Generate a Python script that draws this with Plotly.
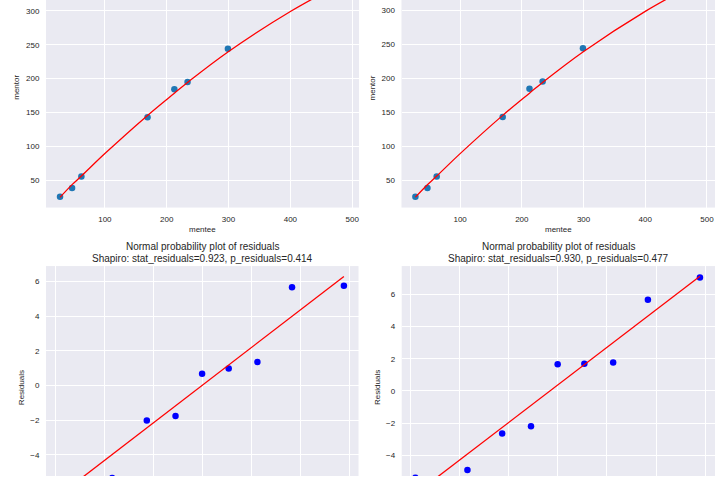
import plotly.graph_objects as go

# ---- data ----
mentee = [27.5, 47, 62, 169, 212.4, 233.7, 299, 430, 488]
mentor = [25.7, 38.4, 55.4, 142.8, 184.4, 195.0, 244.2, 330, 347]

fit_x = [27.5, 47, 62, 100, 169, 212.4, 233.7, 299, 400, 488]
fit_y_left = [24.8, 43.5, 56.1, 89.3, 145.7, 178.5, 194.3, 239.3, 299.1, 343.1]
fit_y_right = [25.0, 43.3, 56.0, 89.0, 145.3, 178.0, 193.8, 238.6, 298.3, 342.5]

theo_q = [-1.446, -0.917, -0.564, -0.271, 0.0, 0.271, 0.564, 0.917, 1.446]
resid_left = [-6.4, -5.34, -2.02, -1.76, 0.67, 0.97, 1.35, 5.66, 5.75]
resid_right = [-5.4, -4.92, -2.65, -2.20, 1.66, 1.68, 1.76, 5.67, 7.05]
qline_x = [-1.446, 1.446]
qline_left = [-6.29, 6.29]
qline_right = [-6.40, 7.13]

titles = [
    ("Normal probability plot of residuals",
     "Shapiro: stat_residuals=0.923, p_residuals=0.414"),
    ("Normal probability plot of residuals",
     "Shapiro: stat_residuals=0.930, p_residuals=0.477"),
]

# ---- style ----
W, H = 720, 480
BG = "#EAEAF2"
TXT = "#262626"
FONT = "Liberation Sans, Arial, sans-serif"
PT_BLUE = "#1f77b4"

def px_x(v):
    return v / W

def px_y(v):
    return 1 - v / H

fig = go.Figure()

# top panels
for i, fy in enumerate([fit_y_left, fit_y_right]):
    xa = "x" if i == 0 else "x2"
    ya = "y" if i == 0 else "y2"
    fig.add_trace(go.Scatter(x=mentee, y=mentor, mode="markers", xaxis=xa, yaxis=ya,
                             marker=dict(color=PT_BLUE, size=6.5, line=dict(width=0)),
                             showlegend=False))
    fig.add_trace(go.Scatter(x=fit_x, y=fy, mode="lines", xaxis=xa, yaxis=ya,
                             line=dict(color="#FF0000", width=1.3, shape="spline"),
                             showlegend=False))

# bottom panels
for i, (res, ql) in enumerate([(resid_left, qline_left), (resid_right, qline_right)]):
    xa = "x3" if i == 0 else "x4"
    ya = "y3" if i == 0 else "y4"
    fig.add_trace(go.Scatter(x=theo_q, y=res, mode="markers", xaxis=xa, yaxis=ya,
                             marker=dict(color="#0000FF", size=6.5, line=dict(width=0)),
                             showlegend=False))
    fig.add_trace(go.Scatter(x=qline_x, y=ql, mode="lines", xaxis=xa, yaxis=ya,
                             line=dict(color="#FF0000", width=1.3),
                             showlegend=False))

common = dict(showgrid=True, gridcolor="white", gridwidth=1, zeroline=False,
              showline=False, ticks="outside", ticklen=4, tickcolor="rgba(0,0,0,0)",
              tickfont=dict(size=8, color=TXT, family=FONT))

TLx = [px_x(46), px_x(359)]
TRx = [px_x(401.5), px_x(715)]
BLx = [px_x(46), px_x(358.5)]
BRx = [px_x(401.7), px_x(715)]
Ty = [px_y(209.3), 1.0]
By = [0.0, px_y(268.3)]

fig.update_layout(
    width=W, height=H, margin=dict(l=0, r=0, t=0, b=0),
    paper_bgcolor="white", plot_bgcolor=BG,
    font=dict(family=FONT, color=TXT, size=8),
    xaxis=dict(domain=TLx, range=[4.8, 511], dtick=100, tick0=0, anchor="y", **common),
    yaxis=dict(domain=Ty, range=[9.6, 316.1], dtick=50, tick0=0, anchor="x", **common),
    xaxis2=dict(domain=TRx, range=[5.0, 513], dtick=100, tick0=0, anchor="y2", **common),
    yaxis2=dict(domain=Ty, range=[9.7, 315.0], dtick=50, tick0=0, anchor="x2", **common),
    xaxis3=dict(domain=BLx, range=[-1.592, 1.595], dtick=0.5, tick0=0, anchor="y3",
                showticklabels=False, **common),
    yaxis3=dict(domain=By, range=[-5.23, 6.89], dtick=2, tick0=0, anchor="x3", **common),
    xaxis4=dict(domain=BRx, range=[-1.585, 1.599], dtick=0.5, tick0=0, anchor="y4",
                showticklabels=False, **common),
    yaxis4=dict(domain=By, range=[-5.29, 7.76], dtick=2, tick0=0, anchor="x4", **common),
)

ann = []
def label(text, x, y, angle=0, size=8):
    ann.append(dict(text=text, x=px_x(x), y=px_y(y), xref="paper", yref="paper",
                    showarrow=False, textangle=angle, xanchor="center", yanchor="middle",
                    font=dict(size=size, color=TXT, family=FONT)))

label("mentor", 17, 88.5, -90)
label("mentor", 372.7, 88.5, -90)
label("mentee", 202.5, 231)
label("mentee", 558.3, 231)
label("Residuals", 21.7, 390.7, -90)
label("Residuals", 377.5, 390.7, -90)
for (t1, t2), cx in zip(titles, [202.2, 558.3]):
    label(t1, cx, 248.3, size=10)
    label(t2, cx, 260.3, size=10)

fig.update_layout(annotations=ann)
fig.write_html("out.html")
